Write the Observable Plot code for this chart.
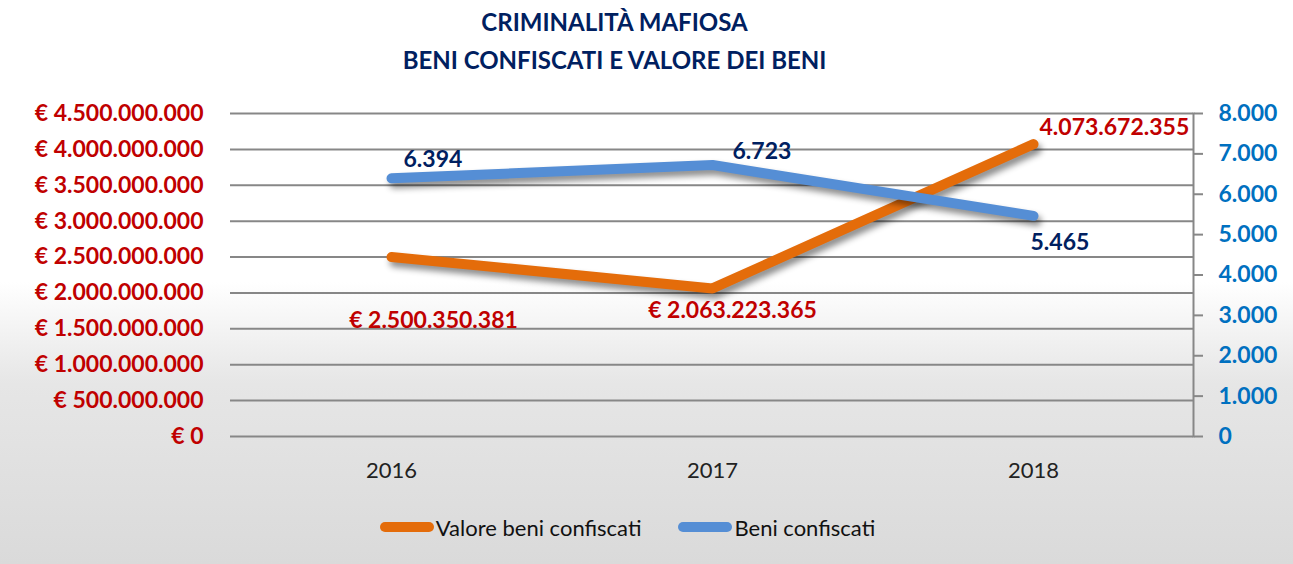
<!DOCTYPE html>
<html><head><meta charset="utf-8">
<script src="https://cdn.jsdelivr.net/npm/d3@7"></script>
<script src="https://cdn.jsdelivr.net/npm/@observablehq/plot@0.6"></script>
<style>
html,body{margin:0;padding:0;}
body{width:1293px;height:564px;overflow:hidden;font-family:Lato,sans-serif;
background:linear-gradient(to bottom,#ffffff 0,#ffffff 50%,#e6e6e6 68%,#dadada 100%);}
#title{height:90px;text-align:center;color:#002060;font-weight:700;font-size:24px;line-height:38px;padding-top:3px;padding-right:64px;box-sizing:border-box;}
#chart{height:410px;}
#legend{height:64px;display:flex;justify-content:center;align-items:center;padding-bottom:10px;padding-right:38px;box-sizing:border-box;font-size:22px;color:#111;}
.item{display:flex;align-items:center;}
.sw{width:54px;height:10px;border-radius:5px;margin-right:2px;}
</style></head>
<body>
<div id="title">CRIMINALITÀ MAFIOSA<br>BENI CONFISCATI E VALORE DEI BENI</div>
<div id="chart"></div>
<div id="legend"></div>
<script>
const years = ["2016", "2017", "2018"];
const valoreBeni = [2500350381, 2063223365, 4073672355];
const beniConfiscati = [6394, 6723, 5465];
const valoreLabels = ["€ 2.500.350.381", "€ 2.063.223.365", "4.073.672.355"];
const beniLabels = ["6.394", "6.723", "5.465"];
const leftTicks = [0, 500e6, 1000e6, 1500e6, 2000e6, 2500e6, 3000e6, 3500e6, 4000e6, 4500e6];
const rightTicks = [0, 1000, 2000, 3000, 4000, 5000, 6000, 7000, 8000];
const seriesNames = ["Valore beni confiscati", "Beni confiscati"];
const colors = ["#E46C0A", "#558ED5"];

const ratio = 4.5e9 / 8000;
const it = d3.formatLocale({decimal: ",", thousands: ".", grouping: [3], currency: ["€", ""]});
const fmt = it.format(",.0f");

const rowsV = years.map((y, i) => ({year: y, v: valoreBeni[i], label: valoreLabels[i]}));
const rowsB = years.map((y, i) => ({year: y, v: beniConfiscati[i] * ratio, label: beniLabels[i]}));

// label offsets (styling)
const offV = [{dx: 42, dy: 64, a: "middle"}, {dx: 20, dy: 22, a: "middle"}, {dx: 6, dy: -16, a: "start"}];
const offB = [{dx: 12, dy: -19, a: "start"}, {dx: 20, dy: -13, a: "start"}, {dx: -3, dy: 27, a: "start"}];

const labelMarks = [];
rowsV.forEach((r, i) => labelMarks.push(Plot.text([r], {x: "year", y: "v", text: "label", dx: offV[i].dx, dy: offV[i].dy, textAnchor: offV[i].a, fill: "#C00000", fontSize: 23, fontWeight: 700})));
rowsB.forEach((r, i) => labelMarks.push(Plot.text([r], {x: "year", y: "v", text: "label", dx: offB[i].dx, dy: offB[i].dy, textAnchor: offB[i].a, fill: "#002060", fontSize: 23, fontWeight: 700})));

const chart = Plot.plot({
  width: 1293,
  height: 410,
  marginTop: 23,
  marginBottom: 64,
  marginLeft: 230,
  marginRight: 100,
  style: {background: "transparent", fontFamily: "Lato, sans-serif", overflow: "visible"},
  x: {type: "point", domain: years, padding: 0.5, label: null},
  y: {domain: [0, 4.5e9], label: null},
  marks: [
    Plot.ruleY(leftTicks, {stroke: "#878787", strokeWidth: 2}),
    Plot.frame({anchor: "right", stroke: "#878787", strokeWidth: 2}),
    Plot.axisY(leftTicks, {anchor: "left", label: null, tickSize: 0, tickPadding: 27, tickFormat: d => "€ " + fmt(d), fill: "#C00000", fontSize: 23, fontWeight: 700}),
    Plot.axisY(rightTicks.map(d => d * ratio), {anchor: "right", label: null, tickSize: 9, tickPadding: 16, stroke: "#878787", strokeWidth: 2, strokeOpacity: 1, tickFormat: d => fmt(Math.round(d / ratio)), fill: "#0070C0", fontSize: 23, fontWeight: 700, textAnchor: "start"}),
    Plot.axisX({label: null, tickSize: 0, tickPadding: 26, fontSize: 22, fill: "#222"}),
    Plot.line(rowsV, {x: "year", y: "v", stroke: colors[0], strokeWidth: 10, strokeLinecap: "round", strokeLinejoin: "round"}),
    Plot.line(rowsB, {x: "year", y: "v", stroke: colors[1], strokeWidth: 10, strokeLinecap: "round", strokeLinejoin: "round"}),
    ...labelMarks
  ]
});
document.getElementById("chart").appendChild(chart);
chart.querySelectorAll('g[aria-label="line"]').forEach(g => g.style.filter = "drop-shadow(3px 5px 3px rgba(0,0,0,0.45))");
chart.querySelectorAll('g[aria-label="y-axis tick label"], g[aria-label="text"]').forEach(g => g.setAttribute("font-weight", "700"));

const legend = document.getElementById("legend");
seriesNames.forEach((n, i) => {
  const d = document.createElement("div");
  d.className = "item";
  d.style.marginRight = i === 0 ? "37px" : "0";
  d.innerHTML = `<span class="sw" style="background:${colors[i]}"></span><span>${n}</span>`;
  legend.appendChild(d);
});
</script>
</body></html>
